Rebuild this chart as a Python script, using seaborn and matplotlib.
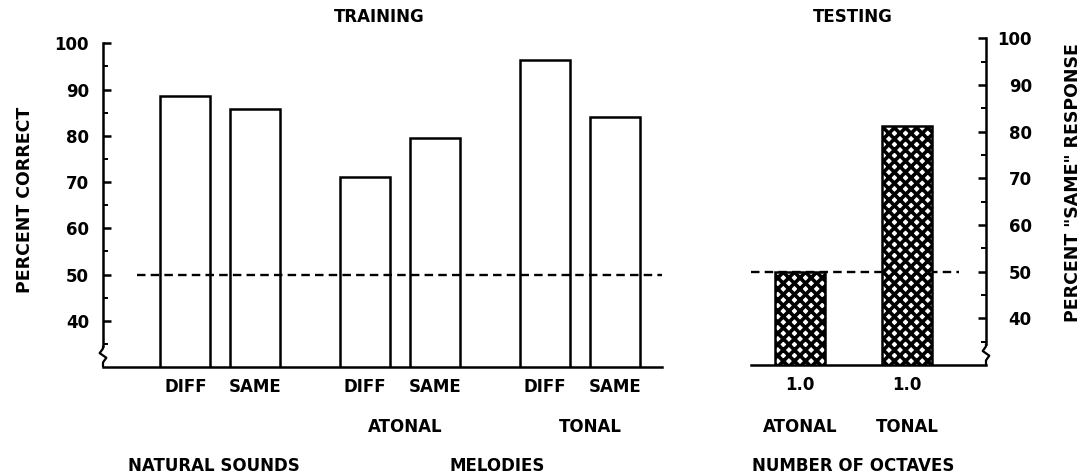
import numpy as np
import pandas as pd
import matplotlib
matplotlib.use("Agg")
import matplotlib.pyplot as plt
import seaborn as sns

# ---------------- data ----------------
training_conditions = ["DIFF", "SAME", "DIFF", "SAME", "DIFF", "SAME"]
training_groups = ["NATURAL SOUNDS", "NATURAL SOUNDS", "ATONAL", "ATONAL", "TONAL", "TONAL"]
training_percent_correct = [88.6, 85.8, 71.1, 79.6, 96.4, 84.0]

testing_octaves = ["1.0", "1.0"]
testing_types = ["ATONAL", "TONAL"]
testing_percent_same = [49.9, 81.3]

chance_level = 50
y_ticks = [40, 50, 60, 70, 80, 90, 100]
y_tick_labels = ["40", "50", "60", "70", "80", "90", "100"]
panel_titles = ["TRAINING", "TESTING"]
left_ylabel = "PERCENT CORRECT"
right_ylabel = 'PERCENT "SAME" RESPONSE'
melody_labels = ["ATONAL", "TONAL"]
bottom_labels = ["NATURAL SOUNDS", "MELODIES", "NUMBER OF OCTAVES"]

# ---------------- style / layout ----------------
sns.set_style("white")
plt.rcParams["font.family"] = ["DejaVu Sans"]
plt.rcParams["font.weight"] = "bold"
plt.rcParams["axes.labelweight"] = "bold"
plt.rcParams["hatch.linewidth"] = 2.6
for k in ("text.color", "axes.labelcolor", "xtick.color", "ytick.color"):
    plt.rcParams[k] = "black"
FS = 12
LW = 1.8

fig = plt.figure(figsize=(10.81, 4.74), dpi=100)
W, H = 1081, 474


def px_axes(x0, x1, ytop, ybot):
    return fig.add_axes([x0 / W, 1 - ybot / H, (x1 - x0) / W, (ybot - ytop) / H])


axL = px_axes(103, 662, 43.3, 367)
axR = px_axes(751, 986, 38.3, 365)

# positions (layout)
group_step = 2.57
pos_train = [g * group_step + k for g in range(3) for k in range(2)]
df_train = pd.DataFrame({"pos": pos_train, "val": training_percent_correct,
                         "cond": training_conditions, "group": training_groups})
df_test = pd.DataFrame({"pos": [0, 1], "val": testing_percent_same,
                        "type": testing_types})

sns.barplot(data=df_train, x="pos", y="val", native_scale=True, ax=axL,
            color="white", saturation=1, width=0.714, edgecolor="black",
            linewidth=LW, errorbar=None, zorder=2)
sns.barplot(data=df_test, x="pos", y="val", native_scale=True, ax=axR,
            color="white", saturation=1, width=0.469, edgecolor="black",
            linewidth=LW, errorbar=None, hatch="xxx", zorder=2)

dash = (0, (3.6, 2.2))
axL.axhline(chance_level, xmin=0.06, xmax=1.0, color="black", lw=1.7,
            linestyle=dash, zorder=3)
axR.axhline(chance_level, xmin=0.0, xmax=0.885, color="black", lw=1.7,
            linestyle=dash, zorder=1)

for ax in (axL, axR):
    ax.set_ylim(30, 100)
    ax.set_xlabel("")
    ax.set_ylabel("")
    ax.spines["top"].set_visible(False)
    for s in ax.spines.values():
        s.set_linewidth(LW)
        s.set_color("black")
    ax.set_yticks(y_ticks)
    ax.set_yticks(np.arange(35, 100, 10), minor=True)
    ax.tick_params(axis="y", which="major", direction="in", length=6,
                   width=LW, labelsize=FS)
    ax.tick_params(axis="y", which="minor", direction="in", length=3.5,
                   width=1.4)
    ax.tick_params(axis="x", length=0, labelsize=FS, pad=8)

# left panel axes
axL.set_xlim(-1.177, 6.809)
axL.spines["right"].set_visible(False)
axL.set_xticks(pos_train)
axL.set_xticklabels(training_conditions)
axL.set_yticklabels(y_tick_labels)
axL.tick_params(axis="y", which="both", left=True, right=False)
axL.tick_params(axis="y", which="major", pad=10)
axL.spines["left"].set_bounds(34.6, 100)

# right panel axes
axR.set_xlim(-0.459, 1.734)
axR.spines["left"].set_visible(False)
axR.yaxis.tick_right()
axR.set_xticks([0, 1])
axR.set_xticklabels(testing_octaves)
axR.set_yticklabels(y_tick_labels)
axR.tick_params(axis="y", which="both", left=False, right=True)
axR.tick_params(axis="y", which="major", pad=33)
for t in axR.get_yticklabels():
    t.set_horizontalalignment("right")
axR.spines["right"].set_bounds(34.6, 100)

# axis break squiggles
for ax, xs in ((axL, 0.0), (axR, 1.0)):
    tr = ax.get_yaxis_transform()
    dx = 0.006 if ax is axL else 0.014
    ax.plot([xs, xs, xs - dx, xs + dx, xs, xs], [34.6, 34.0, 33.0, 32.0, 31.0, 30.0],
            transform=tr, color="black", lw=1.6, clip_on=False, zorder=4,
            solid_capstyle="butt")

# titles
axL.text(0.494, 1.081, panel_titles[0], transform=axL.transAxes,
         ha="center", va="center", fontsize=FS, fontweight="bold")
axR.text(0.487, 1.065, panel_titles[1], transform=axR.get_xaxis_transform(),
         ha="center", va="center", fontsize=FS, fontweight="bold")

# y labels
axL.set_ylabel(left_ylabel, fontsize=12.5, fontweight="bold")
axL.yaxis.label.set_verticalalignment("center")
axL.yaxis.set_label_coords(-0.1395, 0.516)
axR.yaxis.set_label_position("right")
axR.set_ylabel(right_ylabel, fontsize=12.5, fontweight="bold", rotation=90)
axR.yaxis.label.set_verticalalignment("center")
axR.yaxis.set_label_coords(1.370, 0.557)

# second row labels
trL = axL.get_xaxis_transform()
trR = axR.get_xaxis_transform()
axL.text(3.14, -0.185, melody_labels[0], transform=trL, ha="center", va="center",
         fontsize=FS, fontweight="bold")
axL.text(5.78, -0.185, melody_labels[1], transform=trL, ha="center", va="center",
         fontsize=FS, fontweight="bold")
for p, lab in zip([0, 1], testing_types):
    axR.text(p, -0.19, lab, transform=trR, ha="center", va="center",
             fontsize=FS, fontweight="bold")

# bottom row labels
axL.text(0.41, -0.306, bottom_labels[0], transform=trL, ha="center", va="center",
         fontsize=FS, fontweight="bold")
axL.text(4.46, -0.306, bottom_labels[1], transform=trL, ha="center", va="center",
         fontsize=FS, fontweight="bold")
axR.text(0.49, -0.309, bottom_labels[2], transform=trR, ha="center", va="center",
         fontsize=FS, fontweight="bold")

fig.savefig("out.png", dpi=100, facecolor="white")
